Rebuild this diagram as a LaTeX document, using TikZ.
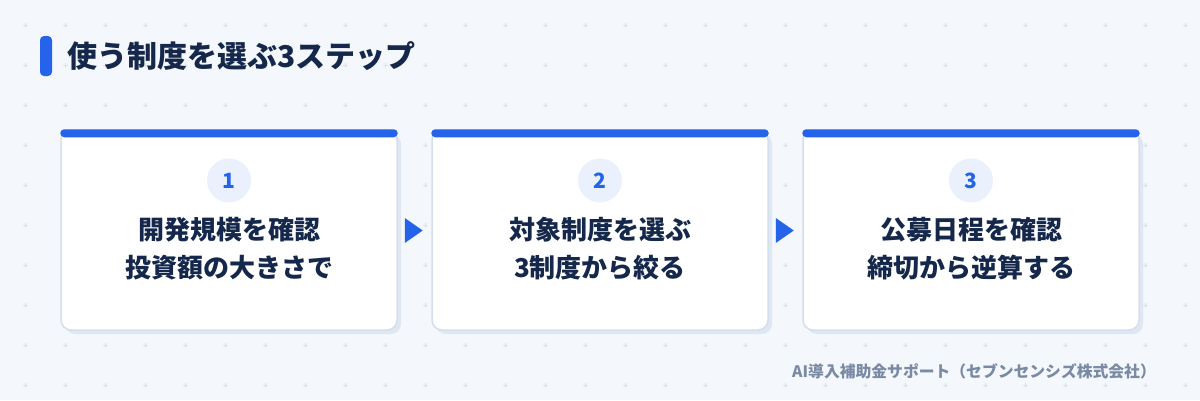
\documentclass[tikz,border=0pt]{standalone}
\usepackage{fontspec}
\setmainfont{Noto Sans CJK JP}
\usetikzlibrary{positioning,shadows}
\definecolor{bgc}{HTML}{F4F7FC}
\definecolor{plusc}{HTML}{DCE3EE}
\definecolor{navy}{HTML}{15284B}
\definecolor{accent}{HTML}{2563EB}
\definecolor{numbg}{HTML}{EAF1FD}
\definecolor{bordc}{HTML}{D4DFEE}
\definecolor{shadc}{HTML}{DFE7F3}
\definecolor{footc}{HTML}{7A8AA5}
\tikzset{
  card/.style = {draw=bordc, fill=white, line width=1.5pt, rounded corners=10pt,
    minimum width=336pt, minimum height=200pt, inner sep=0pt,
    drop shadow={shadow xshift=4pt, shadow yshift=-4pt, fill=shadc,
    opacity=1}},% carte blanche
  numcircle/.style = {circle, fill=numbg, minimum size=44pt, inner sep=0pt,
    text=accent, font=\fontsize{21}{21}\selectfont\bfseries},% pastille du numero
  cardtext/.style = {align=center, text=navy, inner sep=0pt,
    font=\fontsize{26}{38}\selectfont\bfseries},% texte de la carte
  titlebar/.style = {fill=accent, rounded corners=4pt, minimum width=12pt,
    minimum height=40pt, inner sep=0pt},
  %plusmark/.style = {draw=plusc, line width=1pt}
}
\begin{document}
\begin{tikzpicture}[x=1pt,y=-1pt]
\fill[bgc] (0,0) rectangle (1200,400);
\useasboundingbox (0,0) rectangle (1200,400);
\foreach \x in {25,65,...,1185}
  \foreach \y in {25,65,...,385}
    \draw[plusc, line width=1pt] (\x-2.5,\y) -- (\x+2.5,\y) (\x,\y-2.5) -- (\x,\y+2.5);
% titre
\node [titlebar] (tbar) at (46,56) {};
\node [right=15pt of tbar, text=navy, inner sep=0pt,
  font=\fontsize{30}{30}\selectfont\bfseries] (title) {使う制度を選ぶ3ステップ};
% cartes
\node [card] (card1) at (229,230) {};
\node [card, right=33.5pt of card1] (card2) {};
\node [card, right=33.5pt of card2] (card3) {};
\foreach \i/\n/\txt in {1/1/{開発規模を確認\\投資額の大きさで},
    2/2/{対象制度を選ぶ\\3制度から絞る},
    3/3/{公募日程を確認\\締切から逆算する}}{
  \fill[accent, rounded corners=4pt] (card\i.north west) rectangle
    ([yshift=-8pt]card\i.north east);
  \node [numcircle, below=29pt of card\i.north] (num\i) {\n};
  \node [cardtext] (txt\i) at ([yshift=-19pt]card\i.center) {\txt};
}
% fleches
\foreach \a in {1,2}{
  \coordinate [right=7pt of card\a] (tip\a);
  \fill[accent] ([yshift=12pt]tip\a) -- ++(18,12.5) -- ++(-18,12.5) -- cycle;
}
\node [anchor=east, text=footc, inner sep=0pt,
  font=\fontsize{15.8}{15.8}\selectfont\bfseries] (foot) at (1156,371)
  {AI導入補助金サポート（セブンセンシズ株式会社）};
\end{tikzpicture}
\end{document}
